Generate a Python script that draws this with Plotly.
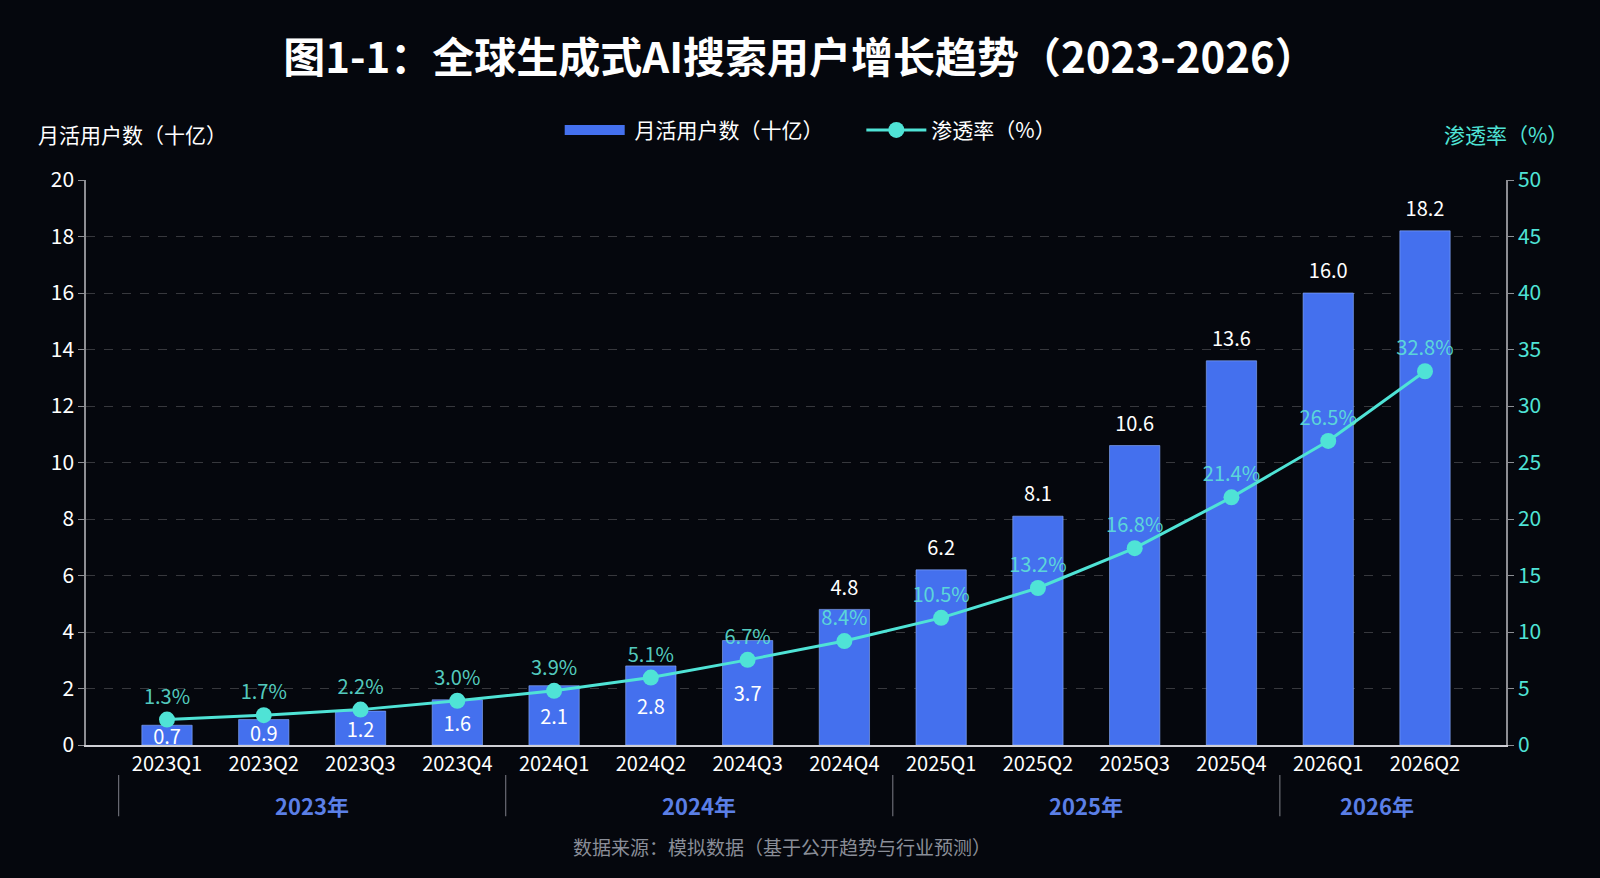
import plotly.graph_objects as go

# data
quarters = ['2023Q1', '2023Q2', '2023Q3', '2023Q4',
            '2024Q1', '2024Q2', '2024Q3', '2024Q4',
            '2025Q1', '2025Q2', '2025Q3', '2025Q4',
            '2026Q1', '2026Q2']
users = [0.7, 0.9, 1.2, 1.6, 2.1, 2.8, 3.7, 4.8, 6.2, 8.1, 10.6, 13.6, 16.0, 18.2]
penetration = [1.3, 1.7, 2.2, 3.0, 3.9, 5.1, 6.7, 8.4, 10.5, 13.2, 16.8, 21.4, 26.5, 32.8]
years = ['2023年', '2024年', '2025年', '2026年']
year_counts = [4, 4, 4, 2]

bg = '#05070d'
bar_col = '#4470ee'
cyan = '#4fe3d6'
font_cjk = 'Noto Sans CJK SC'
nb = '\u00a0'
small = [v < 4 for v in users]  # these get their label inside the bar

fig = go.Figure()

# legend-only entry so the bar swatch is a wide block like the original
fig.add_trace(go.Scatter(x=[None], y=[None], mode='lines', name=nb + '月活用户数（十亿）' + nb * 7,
                         line=dict(color=bar_col, width=20)))

fig.add_trace(go.Bar(x=quarters, y=users, name='月活用户数（十亿）', showlegend=False,
                     marker=dict(color=bar_col, line=dict(color='rgba(140,175,255,0.6)', width=1)),
                     width=0.52,
                     text=[f'{v:.1f}' if s else '' for v, s in zip(users, small)],
                     textposition='inside', insidetextanchor='middle', constraintext='none',
                     textangle=0,
                     textfont=dict(color='white', size=20, family=font_cjk),
                     cliponaxis=True))

# labels above the taller bars (invisible marker keeps a small gap)
fig.add_trace(go.Scatter(x=quarters, y=users, mode='markers+text',
                         marker=dict(size=14, opacity=0),
                         text=['' if s else f'{v:.1f}' for v, s in zip(users, small)],
                         textposition='top center',
                         textfont=dict(color='white', size=20, family=font_cjk),
                         showlegend=False, hoverinfo='skip'))

# the line sits on its own hidden scale, slightly lifted like in the original
fig.add_trace(go.Scatter(x=quarters, y=penetration, yaxis='y3', name='渗透率（%）',
                         mode='lines+markers+text',
                         line=dict(color=cyan, width=3),
                         marker=dict(color=cyan, size=16),
                         text=[f'{v:.1f}%' for v in penetration],
                         textposition='top center',
                         textfont=dict(color='rgba(95,228,215,0.9)', size=20, family=font_cjk)))

# dummy trace so the right axis is drawn
fig.add_trace(go.Scatter(x=[None], y=[None], yaxis='y2', showlegend=False, hoverinfo='skip'))

# year group labels and dividers under the quarter ticks
start = 0
for yr, n in zip(years, year_counts):
    fig.add_annotation(x=start + (n - 1) / 2, y=-0.106, xref='x', yref='paper', yanchor='middle',
                       text='<b>' + yr + '</b>', showarrow=False,
                       font=dict(color='#5b7fe6', size=22, family=font_cjk))
    fig.add_shape(type='line', x0=start - 0.5, x1=start - 0.5, y0=-0.053, y1=-0.126,
                  xref='x', yref='paper', line=dict(color='rgba(190,190,200,0.55)', width=1.2))
    start += n

fig.add_annotation(x=-0.035, y=1.081, xref='paper', yref='paper', xanchor='left', yanchor='middle',
                   text='月活用户数（十亿）', showarrow=False,
                   font=dict(color='white', size=21, family=font_cjk))
fig.add_annotation(x=1.0, y=1.081, xref='paper', yref='paper', xanchor='center', yanchor='middle',
                   text='渗透率（%）', showarrow=False,
                   font=dict(color=cyan, size=21, family=font_cjk))
fig.add_annotation(x=0.49, y=-0.18, xref='paper', yref='paper', yanchor='middle',
                   text='数据来源：模拟数据（基于公开趋势与行业预测）', showarrow=False,
                   font=dict(color='#8a8e98', size=19, family=font_cjk))

fig.update_layout(
    width=1600, height=878,
    paper_bgcolor=bg, plot_bgcolor=bg,
    font=dict(family=font_cjk, color='white', size=18),
    title=dict(text='<b>图1-1：全球生成式AI搜索用户增长趋势（2023-2026）</b>',
               x=0.5, xanchor='center', y=0.934, yanchor='middle',
               font=dict(size=42, color='white', family=font_cjk)),
    margin=dict(l=86, r=94, t=180, b=133),
    legend=dict(orientation='h', x=0.51, xanchor='center', y=1.088, yanchor='middle',
                font=dict(size=21, color='white'), bgcolor='rgba(0,0,0,0)',
                itemwidth=60),
    xaxis=dict(type='category', showgrid=False, showline=True,
               linecolor='rgba(230,230,235,0.9)', linewidth=1.5,
               tickfont=dict(size=20, color='white'), ticks=''),
    yaxis=dict(range=[0, 20], dtick=2, showgrid=True,
               gridcolor='rgba(255,255,255,0.2)', griddash='dash', gridwidth=1,
               showline=True, linecolor='rgba(200,200,205,0.7)', linewidth=1.5,
               ticks='outside', ticklen=6, tickcolor='rgba(200,200,205,0.7)',
               tickfont=dict(size=21, color='white'), zeroline=False),
    yaxis2=dict(range=[0, 50], dtick=5, overlaying='y', side='right', showgrid=False,
                showline=True, linecolor='rgba(200,200,205,0.7)', linewidth=1.5,
                ticks='outside', ticklen=6, tickcolor='rgba(200,200,205,0.7)',
                tickfont=dict(size=21, color=cyan), zeroline=False),
    yaxis3=dict(range=[-1.0, 50.1], overlaying='y', visible=False),
)

fig.write_html("out.html", config={'displayModeBar': False},
               post_script="document.body.style.margin='0';document.body.style.overflow='hidden';")
